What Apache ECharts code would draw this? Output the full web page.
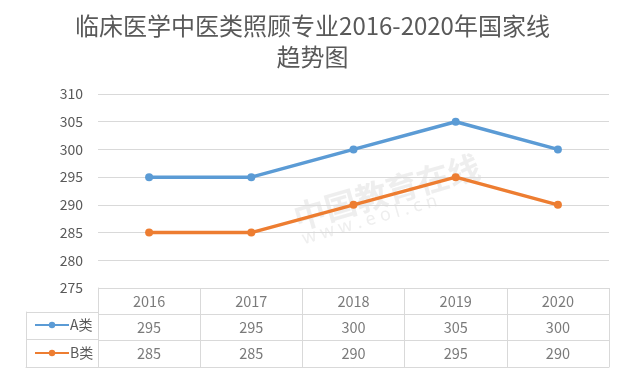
<!DOCTYPE html>
<html><head><meta charset="utf-8">
<script src="https://cdn.jsdelivr.net/npm/echarts@6/dist/echarts.min.js"></script>
<style>html,body{margin:0;padding:0;background:#fff}#c{width:625px;height:371px}</style>
</head><body><div id="c"></div>
<script>
var years = ['2016','2017','2018','2019','2020'];
var seriesA = [295, 295, 300, 305, 300];
var seriesB = [285, 285, 290, 295, 290];
var nameA = 'A类', nameB = 'B类';
var yMin = 275, yMax = 310, yStep = 5;
var titleText = '临床医学中医类照顾专业2016-2020年国家线\n趋势图';

var blue = '#5b9bd5', orange = '#ed7d31', txt = '#595959', gridC = '#d9d9d9';
var font = '"Noto Sans CJK SC", "Open Sans", sans-serif';

var tableRows = ['header', nameA, nameB];
var cells = [];
years.forEach(function(y, i){
  cells.push([i, 0, y]);
  cells.push([i, 1, String(seriesA[i])]);
  cells.push([i, 2, String(seriesB[i])]);
});

var chart = echarts.init(document.getElementById('c'));
chart.setOption({
  animation: false,
  backgroundColor: '#fff',
  textStyle: {fontFamily: font},
  title: {
    text: titleText, left: 'center', top: 10, padding: 0,
    textStyle: {fontSize: 24, fontWeight: 'normal', color: txt, lineHeight: 31, fontFamily: font}
  },
  legend: {
    data: [nameA, nameB], orient: 'vertical', left: 29, top: 312, itemGap: 12,
    itemWidth: 34, itemHeight: 8,
    textStyle: {color: txt, fontSize: 14, lineHeight: 16, padding: [0,0,0,-4]}
  },
  grid: [
    {left: 98, right: 16, top: 94, height: 194},
    {left: 98, right: 16, top: 288, height: 79},
    {left: 26, width: 72, top: 312, height: 55}
  ],
  xAxis: [
    {gridIndex: 0, type: 'category', data: years, boundaryGap: true,
     axisLine: {show: false}, axisTick: {show: false}, axisLabel: {show: false}},
    {gridIndex: 1, type: 'category', data: years, boundaryGap: true,
     axisLine: {show: true, lineStyle: {color: gridC}}, axisTick: {show: false}, axisLabel: {show: false},
     splitLine: {show: true, lineStyle: {color: gridC}}},
    {gridIndex: 2, type: 'category', data: ['x'], axisLine: {show: true, lineStyle: {color: gridC}},
     axisTick: {show: false}, axisLabel: {show: false}, splitLine: {show: true, lineStyle: {color: gridC}}}
  ],
  yAxis: [
    {gridIndex: 0, type: 'value', min: yMin, max: yMax, interval: yStep,
     axisLine: {show: false}, axisTick: {show: false},
     axisLabel: {color: txt, fontSize: 14, margin: 15, fontFamily: font},
     splitLine: {lineStyle: {color: gridC}}},
    {gridIndex: 1, type: 'category', data: tableRows, inverse: true,
     axisLine: {show: true, lineStyle: {color: gridC}}, axisTick: {show: false}, axisLabel: {show: false},
     splitLine: {show: true, lineStyle: {color: gridC}}},
    {gridIndex: 2, type: 'category', data: [nameA, nameB], inverse: true,
     axisLine: {show: true, lineStyle: {color: gridC}}, axisTick: {show: false}, axisLabel: {show: false},
     splitLine: {show: true, lineStyle: {color: gridC}}}
  ],
  graphic: [
    {type: 'text', left: 290, top: 150, rotation: 0.28, silent: true,
     style: {text: '中国教育在线', fill: 'rgba(200,200,200,0.3)', font: 'bold 32px "Noto Sans CJK SC"'}},
    {type: 'text', left: 300, top: 192, rotation: 0.28, silent: true,
     style: {text: 'w w w . e o l . c n', fill: 'rgba(200,200,200,0.3)', font: '18px "Noto Sans"'}}
  ],
  series: [
    {name: nameA, type: 'line', xAxisIndex: 0, yAxisIndex: 0, data: seriesA,
     symbol: 'circle', symbolSize: 8, lineStyle: {width: 3.5, color: blue}, itemStyle: {color: blue}},
    {name: nameB, type: 'line', xAxisIndex: 0, yAxisIndex: 0, data: seriesB,
     symbol: 'circle', symbolSize: 8, lineStyle: {width: 3.5, color: orange}, itemStyle: {color: orange}},
    {type: 'scatter', xAxisIndex: 1, yAxisIndex: 1, symbolSize: 0, silent: true,
     data: cells.map(function(c){ return {value: [c[0], c[1]], text: c[2]}; }),
     label: {show: true, position: 'inside', color: txt, fontSize: 14.5, fontFamily: font,
       formatter: function(p){ return p.data.text; }}}
  ]
});
</script></body></html>
